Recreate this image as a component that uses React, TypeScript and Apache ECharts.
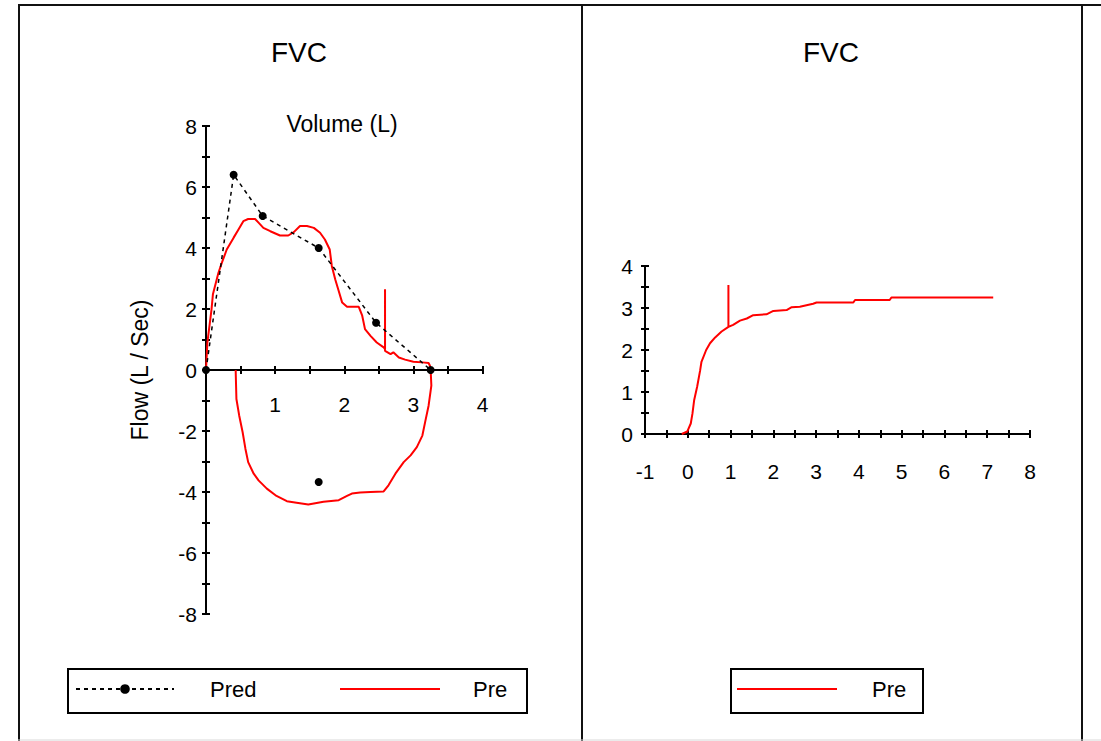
import React, { useEffect, useRef } from "react";
import * as echarts from "echarts";

// Flow-volume loop: predicted expiratory points (L, L/s)
const predVolume = [0, 0.4, 0.82, 1.63, 2.46, 3.25];
const predFlow = [0, 6.4, 5.05, 4.0, 1.55, 0];
// Predicted peak inspiratory flow point
const predInspVolume = [1.63];
const predInspFlow = [-3.67];

// Measured ("Pre") loop: expiration then inspiration
const preLoopVolume = [
  0, 0.02, 0.08, 0.1, 0.18, 0.23, 0.3, 0.4, 0.47, 0.54, 0.61, 0.71, 0.76, 0.83,
  0.93, 1.07, 1.19, 1.27, 1.36, 1.46, 1.56, 1.65, 1.72, 1.79, 1.82, 1.87, 1.92,
  1.97, 2.04, 2.21, 2.26, 2.3, 2.38, 2.47, 2.57, 2.59, 2.59, 2.59, 2.67, 2.71,
  2.79, 2.88, 3.0, 3.13, 3.22, 3.24, 3.25,
  3.26, 3.22, 3.17, 3.13, 3.05, 2.96, 2.86, 2.74, 2.64, 2.57, 2.38, 2.23, 2.11,
  2.04, 1.92, 1.7, 1.48, 1.31, 1.17, 1.02, 0.88, 0.76, 0.69, 0.61, 0.57, 0.53,
  0.48, 0.44, 0.43, 0.43,
];
const preLoopFlow = [
  0, 0.9, 1.99, 2.48, 3.19, 3.52, 3.95, 4.34, 4.61, 4.88, 4.95, 4.95, 4.83, 4.66,
  4.55, 4.41, 4.41, 4.52, 4.72, 4.72, 4.66, 4.5, 4.28, 3.95, 3.41, 2.97, 2.59,
  2.21, 2.07, 2.07, 1.78, 1.34, 1.12, 0.9, 0.74, 0.69, 2.65, 0.63, 0.52, 0.58,
  0.41, 0.34, 0.27, 0.25, 0.23, 0.14, 0,
  -0.51, -1.17, -1.71, -2.15, -2.53, -2.8, -3.02, -3.4, -3.78, -3.98, -4.0, -4.02,
  -4.05, -4.13, -4.27, -4.32, -4.41, -4.35, -4.3, -4.13, -3.89, -3.62, -3.4,
  -3.02, -2.58, -2.04, -1.49, -0.95, -0.08, 0,
];

// Volume-time curve: time (s) and volume (L)
const preTime = [
  -0.14, -0.01, 0.07, 0.11, 0.15, 0.22, 0.29, 0.32, 0.43, 0.52, 0.64, 0.79, 0.95,
  0.95, 0.95, 1.06, 1.22, 1.38, 1.53, 1.84, 2.0, 2.31, 2.43, 2.62, 2.93, 3.01,
  3.87, 3.91, 4.72, 4.76, 7.14,
];
const preVolume = [
  0, 0.06, 0.25, 0.49, 0.81, 1.13, 1.52, 1.72, 2.0, 2.16, 2.3, 2.44, 2.55,
  3.55, 2.55, 2.6, 2.7, 2.75, 2.83, 2.85, 2.93, 2.95, 3.02, 3.03, 3.1, 3.13,
  3.13, 3.19, 3.19, 3.25, 3.25,
];

const titleText = "FVC";
const flowAxisName = "Flow (L / Sec)";
const volumeAxisName = "Volume (L)";

const FONT = "'Liberation Sans', Arial, Helvetica, sans-serif";
const INK = "#000";
const RED = "#ff0000";

const zip = (xs: number[], ys: number[]) => xs.map((x, i) => [x, ys[i]]);

const intLabel = (hideZero: boolean) => (v: number) =>
  Number.isInteger(v) && !(hideZero && v === 0) ? String(v) : "";

const axisLine = { onZero: false, lineStyle: { color: INK, width: 2 } };
const axisTick = { show: true, length: 4, lineStyle: { color: INK, width: 2 } };
const labelStyle = { color: INK, fontSize: 21, fontFamily: FONT };

// flow-volume plot box
const FV = { left: 206, top: 126, width: 276.5, height: 488 };
// volume-time plot box
const VT = { left: 645, top: 266, width: 385, height: 168 };

export default function App() {
  const ref = useRef<HTMLDivElement>(null);

  useEffect(() => {
    if (!ref.current) return;
    const chart = echarts.init(ref.current, undefined, { renderer: "svg" });

    const titleStyle = { fontSize: 28, fontWeight: "normal", color: INK, fontFamily: FONT };
    const legendText = (gap: number) => ({
      color: INK, fontSize: 22, fontFamily: FONT, padding: [0, 0, 0, gap],
    });

    const option: any = {
      animation: false,
      backgroundColor: "#fff",
      title: [
        { text: titleText, left: 299, top: 38, textAlign: "center", padding: 0, textStyle: titleStyle },
        { text: titleText, left: 831, top: 38, textAlign: "center", padding: 0, textStyle: titleStyle },
      ],
      grid: [
        { ...FV, containLabel: false, outerBoundsMode: "none" },
        { ...VT, containLabel: false, outerBoundsMode: "none" },
      ],
      xAxis: [
        // volume axis crosses the flow axis at zero flow (mid-height), ticks on both sides
        {
          type: "value", gridIndex: 0, min: 0, max: 4, interval: 0.5, position: "bottom",
          offset: -FV.height / 2,
          axisLine, axisTick,
          axisLabel: { ...labelStyle, margin: 24, formatter: intLabel(true) },
          splitLine: { show: false },
        },
        {
          type: "value", gridIndex: 0, min: 0, max: 4, interval: 0.5, position: "top",
          offset: -FV.height / 2,
          axisLine, axisTick,
          axisLabel: { show: false },
          splitLine: { show: false },
        },
        {
          type: "value", gridIndex: 1, min: -1, max: 8, interval: 0.5, position: "bottom",
          axisLine, axisTick,
          axisLabel: { ...labelStyle, margin: 27, formatter: intLabel(false) },
          splitLine: { show: false },
        },
        {
          type: "value", gridIndex: 1, min: -1, max: 8, interval: 0.5, position: "top",
          offset: -VT.height,
          axisLine, axisTick,
          axisLabel: { show: false },
          splitLine: { show: false },
        },
      ],
      yAxis: [
        {
          type: "value", gridIndex: 0, min: -8, max: 8, interval: 1, position: "left",
          axisLine, axisTick,
          axisLabel: { ...labelStyle, margin: 9, formatter: (v: number) => (v % 2 === 0 ? String(v) : "") },
          splitLine: { show: false },
          name: flowAxisName,
          nameLocation: "middle",
          nameGap: 55,
          nameTextStyle: { color: INK, fontSize: 23, fontFamily: FONT },
        },
        {
          type: "value", gridIndex: 0, min: -8, max: 8, interval: 1, position: "right",
          offset: -FV.width,
          axisLine, axisTick,
          axisLabel: { show: false },
          splitLine: { show: false },
        },
        {
          type: "value", gridIndex: 1, min: 0, max: 4, interval: 0.5, position: "left",
          axisLine, axisTick,
          axisLabel: { ...labelStyle, margin: 12, formatter: intLabel(false) },
          splitLine: { show: false },
        },
        {
          type: "value", gridIndex: 1, min: 0, max: 4, interval: 0.5, position: "right",
          offset: -VT.width,
          axisLine, axisTick,
          axisLabel: { show: false },
          splitLine: { show: false },
        },
      ],
      legend: [
        {
          data: ["Pred"], left: 75, top: 678, padding: 0, itemWidth: 98, itemHeight: 12,
          selectedMode: false, textStyle: legendText(31),
        },
        {
          data: [{ name: "Pre", icon: "rect" }], left: 340, top: 678, padding: 0,
          itemWidth: 100, itemHeight: 2, selectedMode: false, textStyle: legendText(28),
        },
        {
          data: [{ name: "Pre", icon: "rect" }], left: 737, top: 678, padding: 0,
          itemWidth: 100, itemHeight: 2, selectedMode: false, textStyle: legendText(30),
        },
      ],
      series: [
        {
          name: "Pred", type: "line", xAxisIndex: 0, yAxisIndex: 0,
          data: zip(predVolume, predFlow),
          symbol: "circle", symbolSize: 8, showSymbol: true,
          itemStyle: { color: INK, opacity: 1 },
          lineStyle: { color: INK, width: 1.5, type: [4, 4] },
          z: 3,
        },
        {
          name: "Pred", type: "scatter", xAxisIndex: 0, yAxisIndex: 0,
          data: zip(predInspVolume, predInspFlow),
          symbol: "circle", symbolSize: 8,
          itemStyle: { color: INK, opacity: 1 },
          z: 3,
        },
        {
          name: "Pre", type: "line", xAxisIndex: 0, yAxisIndex: 0,
          data: zip(preLoopVolume, preLoopFlow),
          symbol: "none", showSymbol: false,
          itemStyle: { color: RED },
          lineStyle: { color: RED, width: 2 },
          z: 2,
        },
        {
          name: "Pre", type: "line", xAxisIndex: 2, yAxisIndex: 2,
          data: zip(preTime, preVolume),
          symbol: "none", showSymbol: false,
          itemStyle: { color: RED },
          lineStyle: { color: RED, width: 2 },
          z: 2,
        },
      ],
      graphic: [
        // panel frame
        { type: "line", shape: { x1: 18, y1: 5, x2: 1101, y2: 5 }, style: { stroke: "#111", lineWidth: 2 } },
        { type: "line", shape: { x1: 19, y1: 5, x2: 19, y2: 741 }, style: { stroke: "#111", lineWidth: 2 } },
        { type: "line", shape: { x1: 582, y1: 5, x2: 582, y2: 741 }, style: { stroke: "#111", lineWidth: 2 } },
        { type: "line", shape: { x1: 1082, y1: 5, x2: 1082, y2: 741 }, style: { stroke: "#111", lineWidth: 2 } },
        { type: "line", shape: { x1: 18, y1: 740, x2: 1101, y2: 740 }, style: { stroke: "#d8d8d8", lineWidth: 1 } },
        // legend boxes
        { type: "rect", shape: { x: 68, y: 669, width: 459, height: 44 }, style: { fill: "transparent", stroke: INK, lineWidth: 2 } },
        { type: "rect", shape: { x: 731, y: 669, width: 192, height: 44 }, style: { fill: "transparent", stroke: INK, lineWidth: 2 } },
        // volume axis caption above the flow-volume plot
        {
          type: "text", x: 342, y: 124,
          style: { text: volumeAxisName, fill: INK, fontSize: 23, fontFamily: FONT, align: "center", verticalAlign: "middle" },
        },
      ],
    };

    chart.setOption(option);
    return () => chart.dispose();
  }, []);

  return (
    <div
      ref={ref}
      style={{ position: "fixed", left: 0, top: 0, width: 1101, height: 741, background: "#fff" }}
    />
  );
}
